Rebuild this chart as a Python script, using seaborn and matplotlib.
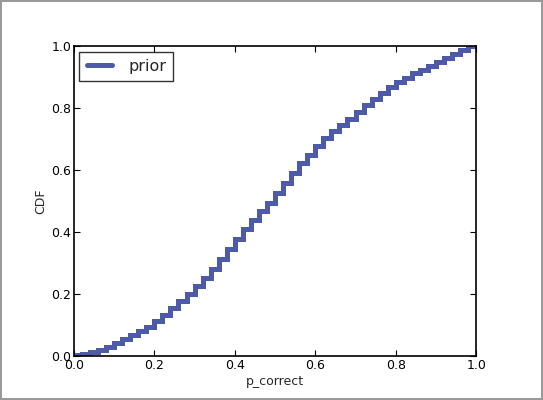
import numpy as np
import pandas as pd
import matplotlib
matplotlib.use('Agg')
import matplotlib.pyplot as plt
import seaborn as sns

# step CDF of the prior (steps of 0.02)
p_correct = [0.00, 0.02, 0.04, 0.06, 0.08, 0.10, 0.12, 0.14, 0.16, 0.18,
             0.20, 0.22, 0.24, 0.26, 0.28, 0.30, 0.32, 0.34, 0.36, 0.38,
             0.40, 0.42, 0.44, 0.46, 0.48, 0.50, 0.52, 0.54, 0.56, 0.58,
             0.60, 0.62, 0.64, 0.66, 0.68, 0.70, 0.72, 0.74, 0.76, 0.78,
             0.80, 0.82, 0.84, 0.86, 0.88, 0.90, 0.92, 0.94, 0.96, 0.98, 1.00]
cdf = [0.000, 0.002, 0.006, 0.012, 0.020, 0.030, 0.041, 0.054, 0.068, 0.081,
       0.095, 0.113, 0.132, 0.154, 0.176, 0.200, 0.226, 0.253, 0.282, 0.313,
       0.345, 0.377, 0.410, 0.440, 0.468, 0.495, 0.526, 0.558, 0.590, 0.621,
       0.650, 0.677, 0.702, 0.725, 0.746, 0.766, 0.788, 0.810, 0.830, 0.850,
       0.869, 0.884, 0.898, 0.912, 0.924, 0.936, 0.949, 0.961, 0.973, 0.986, 1.000]
series_name = 'prior'
ticks = [0.0, 0.2, 0.4, 0.6, 0.8, 1.0]

df = pd.DataFrame({'p_correct': p_correct, 'CDF': cdf})

sns.set_style('white', {'xtick.direction': 'in', 'ytick.direction': 'in',
                        'axes.edgecolor': 'black', 'xtick.bottom': True,
                        'ytick.left': True})
plt.rcParams['font.family'] = ['DejaVu Sans']

fig = plt.figure(figsize=(5.43, 4.0), dpi=100)
fig.patch.set_edgecolor('#999999')
fig.patch.set_linewidth(1.5)
ax = fig.add_axes([0.136, 0.11, 0.741, 0.775])

sns.lineplot(data=df, x='p_correct', y='CDF', ax=ax, color='#4c5aa8',
             linewidth=3.6, drawstyle='steps-pre', label=series_name,
             solid_joinstyle='miter')

ax.set_xlim(0, 1)
ax.set_ylim(0, 1)
ax.set_xticks(ticks)
ax.set_yticks(ticks)
ax.set_xticklabels(['%.1f' % t for t in ticks])
ax.set_yticklabels(['%.1f' % t for t in ticks])
ax.tick_params(axis='both', which='both', direction='in', length=4, width=0.8,
               labelsize=9, colors='black', top=True, right=True, pad=2)
for s in ax.spines.values():
    s.set_linewidth(1.2)
    s.set_color('black')
ax.set_xlabel('p_correct', fontsize=9, labelpad=2)
ax.set_ylabel('CDF', fontsize=9, labelpad=3)

leg = ax.legend(loc='upper left', fontsize=11.5, frameon=True, fancybox=False,
                handlelength=1.6, handletextpad=1.0, borderpad=0.45,
                borderaxespad=0.35)
leg.get_frame().set_edgecolor('black')
leg.get_frame().set_linewidth(1.0)

fig.savefig('out.png', dpi=100, edgecolor=fig.get_edgecolor())
